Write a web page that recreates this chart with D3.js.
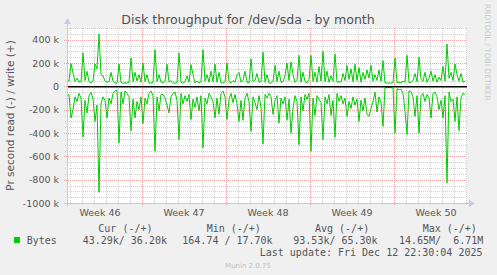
<!DOCTYPE html>
<html>
<head>
<meta charset="utf-8">
<script src="https://cdn.jsdelivr.net/npm/d3@7"></script>
<style>
body { margin: 0; background: #f0f0f0; }
text { font-family: "DejaVu Sans", sans-serif; }
.mono { font-family: "DejaVu Sans Mono", monospace; }
</style>
</head>
<body>
<div id="chart"></div>
<script>
// one sample every 4 hours, values in kB/s
const startTime = new Date(Date.UTC(2025, 10, 10, 18));
const endTime = new Date(Date.UTC(2025, 11, 14, 2));
const stepHours = 4;

// write (+)
const writeK = [
    50, 45, 195, 115, 40, 70, 35, 40, 286, 50,
    128, 40, 30, 45, 192, 150, 449, 100, 90, 45,
    35, 40, 120, 45, 30, 25, 192, 35, 25, 30,
    28, 35, 243, 40, 120, 45, 100, 35, 200, 40,
    100, 30, 28, 35, 314, 40, 100, 35, 28, 45,
    190, 35, 50, 30, 25, 35, 286, 35, 28, 40,
    90, 35, 186, 100, 30, 45, 30, 40, 314, 45,
    100, 35, 130, 40, 190, 35, 120, 30, 28, 40,
    200, 40, 30, 50, 35, 100, 120, 35, 50, 130,
    35, 30, 235, 40, 50, 110, 35, 40, 292, 35,
    100, 30, 25, 45, 180, 40, 130, 35, 40, 90,
    200, 50, 210, 100, 35, 50, 266, 35, 120, 40,
    30, 60, 266, 40, 120, 35, 170, 45, 300, 40,
    130, 35, 90, 45, 278, 35, 40, 35, 110, 50,
    180, 60, 150, 40, 190, 50, 160, 35, 120, 60,
    140, 70, 180, 45, 100, 50, 140, 45, 220, 30,
    28, 28, 28, 30, 243, 30, 35, 30, 45, 35,
    266, 30, 35, 50, 110, 40, 249, 60, 45, 120,
    35, 70, 130, 45, 100, 35, 80, 50, 171, 45,
    363, 70, 120, 50, 192, 100, 45, 110, 35, 45
];

// read (-), drawn below zero
const readK = [
    80, 71, 271, 200, 90, 130, 60, 100, 434, 120,
    228, 80, 50, 110, 300, 160, 908, 150, 90, 120,
    271, 100, 150, 60, 40, 30, 485, 50, 150, 40,
    60, 90, 380, 110, 271, 130, 200, 90, 320, 100,
    150, 60, 40, 80, 557, 90, 210, 70, 70, 100,
    160, 228, 90, 60, 50, 120, 457, 60, 150, 80,
    130, 70, 285, 110, 180, 90, 210, 80, 528, 100,
    150, 60, 90, 130, 271, 100, 240, 60, 40, 90,
    285, 110, 60, 140, 70, 150, 300, 120, 290, 100,
    60, 130, 386, 90, 140, 200, 80, 180, 494, 70,
    100, 60, 90, 240, 120, 80, 314, 100, 150, 90,
    290, 110, 400, 190, 80, 130, 500, 90, 210, 70,
    110, 60, 557, 100, 250, 80, 110, 140, 457, 90,
    150, 70, 250, 120, 437, 60, 130, 80, 150, 100,
    257, 130, 190, 90, 160, 110, 300, 120, 210, 100,
    240, 257, 190, 130, 50, 220, 90, 140, 343, 12,
    12, 10, 12, 15, 400, 20, 30, 25, 60, 210,
    414, 40, 45, 90, 257, 80, 400, 80, 60, 130,
    70, 100, 271, 60, 50, 90, 200, 120, 271, 80,
    828, 50, 130, 110, 300, 90, 380, 100, 60, 70
];

const yTicks = [400, 200, 0, -200, -400, -600, -800, -1000];
const weekLabels = ["Week 46", "Week 47", "Week 48", "Week 49", "Week 50"];
const legendHeads = ["Cur (-/+)", "Min (-/+)", "Avg (-/+)", "Max (-/+)"];
const legendValues = ["43.29k/ 36.20k", "164.74 / 17.70k", "93.53k/ 65.30k", "14.65M/  6.71M"];
const lastUpdate = "Last update: Fri Dec 12 22:30:04 2025";

var width = 497, height = 275;
var plot = {left: 67, right: 467, top: 28, bottom: 203};

var svg = d3.select("#chart")
    .append("svg")
    .attr("width", width)
    .attr("height", height)
    .style("display", "block")
    .style("background", "#f0f0f0");

var x = d3.scaleUtc()
    .domain([startTime, endTime])
    .range([plot.left, plot.right]);

var y = d3.scaleLinear()
    .domain([-1000, 500])
    .range([plot.bottom, plot.top]);

svg.append("rect")
    .attr("x", plot.left)
    .attr("y", plot.top)
    .attr("width", plot.right - plot.left)
    .attr("height", plot.bottom - plot.top)
    .attr("fill", "#ffffff");

// minor grid: days and every 50k
var grid = svg.append("g").attr("shape-rendering", "crispEdges");
grid.selectAll(".vmin")
    .data(d3.utcDay.range(startTime, endTime))
    .enter().append("line")
    .attr("x1", d => Math.round(x(d)) + 0.5)
    .attr("x2", d => Math.round(x(d)) + 0.5)
    .attr("y1", plot.top)
    .attr("y2", plot.bottom + 2)
    .attr("stroke", "#d0d0d0")
    .attr("stroke-dasharray", "1,1");

grid.selectAll(".hmin")
    .data(d3.range(-1000, 501, 50).filter(v => v % 200 != 0))
    .enter().append("line")
    .attr("x1", plot.left - 2)
    .attr("x2", plot.right)
    .attr("y1", d => Math.round(y(d)) + 0.5)
    .attr("y2", d => Math.round(y(d)) + 0.5)
    .attr("stroke", "#d0d0d0")
    .attr("stroke-dasharray", "1,1");

// major grid: weeks and every 200k
grid.selectAll(".vmaj")
    .data(d3.utcMonday.range(startTime, endTime))
    .enter().append("line")
    .attr("x1", d => Math.round(x(d)) + 0.5)
    .attr("x2", d => Math.round(x(d)) + 0.5)
    .attr("y1", plot.top)
    .attr("y2", plot.bottom + 3)
    .attr("stroke", "#f0a0a0")
    .attr("stroke-dasharray", "1,1");

grid.selectAll(".hmaj")
    .data(yTicks)
    .enter().append("line")
    .attr("x1", plot.left - 3)
    .attr("x2", plot.right)
    .attr("y1", d => Math.round(y(d)) + 0.5)
    .attr("y2", d => Math.round(y(d)) + 0.5)
    .attr("stroke", "#f0a0a0")
    .attr("stroke-dasharray", "1,1");

// y tick labels
svg.selectAll(".ylab")
    .data(yTicks)
    .enter().append("text")
    .attr("x", 59)
    .attr("y", d => y(d) + 3.5)
    .attr("text-anchor", "end")
    .attr("font-size", "9.5px")
    .attr("fill", "#555")
    .text(d => d == 0 ? "0" : d + " k");

// week labels in the middle of each week
var weekStarts = d3.utcMonday.range(d3.utcMonday.floor(startTime), endTime);
svg.selectAll(".xlab")
    .data(weekStarts.slice(0, weekLabels.length))
    .enter().append("text")
    .attr("x", d => x(d3.utcHour.offset(d, 84)))
    .attr("y", 216)
    .attr("text-anchor", "middle")
    .attr("font-size", "9.5px")
    .attr("fill", "#555")
    .text((d, i) => weekLabels[i]);

// data lines
var time = i => d3.utcHour.offset(startTime, i * stepHours);

var lineWrite = d3.line()
    .x((d, i) => x(time(i)))
    .y(d => y(d));
var lineRead = d3.line()
    .x((d, i) => x(time(i)))
    .y(d => y(-d));

svg.append("path")
    .datum(readK)
    .attr("d", lineRead)
    .attr("fill", "none")
    .attr("stroke", "#00cc00")
    .attr("stroke-width", 1);

svg.append("path")
    .datum(writeK)
    .attr("d", lineWrite)
    .attr("fill", "none")
    .attr("stroke", "#00cc00")
    .attr("stroke-width", 1);

// zero rule
svg.append("line")
    .attr("x1", plot.left)
    .attr("x2", plot.right)
    .attr("y1", y(0) + 0.5)
    .attr("y2", y(0) + 0.5)
    .attr("stroke", "#000")
    .attr("stroke-width", 1.5);

// axes with arrows
var axisColor = "#c4c8f0";
svg.append("line")
    .attr("x1", plot.left + 0.5).attr("x2", plot.left + 0.5)
    .attr("y1", plot.bottom + 3).attr("y2", plot.top - 5)
    .attr("stroke", axisColor);
svg.append("line")
    .attr("x1", plot.left - 3).attr("x2", plot.right + 4)
    .attr("y1", plot.bottom + 0.5).attr("y2", plot.bottom + 0.5)
    .attr("stroke", axisColor);
svg.append("path")
    .attr("d", d3.line()([[plot.left - 3, plot.top - 4], [plot.left + 4, plot.top - 4], [plot.left + 0.5, plot.top - 10]]))
    .attr("fill", axisColor);
svg.append("path")
    .attr("d", d3.line()([[plot.right + 2, plot.bottom - 3], [plot.right + 2, plot.bottom + 4], [plot.right + 8, plot.bottom + 0.5]]))
    .attr("fill", axisColor);

// titles
svg.append("text")
    .attr("x", 248)
    .attr("y", 23.5)
    .attr("text-anchor", "middle")
    .attr("font-size", "12.6px")
    .attr("fill", "#505050")
    .text("Disk throughput for /dev/sda - by month");

svg.append("text")
    .attr("transform", "translate(14," + ((plot.top + plot.bottom) / 2) + ")rotate(-90)")
    .attr("text-anchor", "middle")
    .attr("font-size", "10.5px")
    .attr("fill", "#555")
    .text("Pr second read (-) / write (+)");

svg.append("text")
    .attr("transform", "translate(485,4)rotate(90)")
    .attr("font-size", "7.5px")
    .attr("fill", "#c8c8c8")
    .text("RRDTOOL / TOBI OETIKER");

// legend
var headX = [98.3, 206.7, 315, 422.7];
var valX = [82.7, 182.3, 293.3, 399];

svg.selectAll(".lhead")
    .data(legendHeads)
    .enter().append("text")
    .attr("class", "mono")
    .attr("x", (d, i) => headX[i])
    .attr("y", 231.5)
    .attr("font-size", "10px")
    .attr("fill", "#555")
    .style("white-space", "pre")
    .text(d => d);

svg.append("rect")
    .attr("x", 14).attr("y", 237)
    .attr("width", 6).attr("height", 6)
    .attr("fill", "#00cc00");

svg.append("text")
    .attr("class", "mono")
    .attr("x", 26.7)
    .attr("y", 243.5)
    .attr("font-size", "10px")
    .attr("fill", "#555")
    .text("Bytes");

svg.selectAll(".lval")
    .data(legendValues)
    .enter().append("text")
    .attr("class", "mono")
    .attr("x", (d, i) => valX[i])
    .attr("y", 243.5)
    .attr("font-size", "10px")
    .attr("fill", "#555")
    .style("white-space", "pre")
    .text(d => d);

svg.append("text")
    .attr("class", "mono")
    .attr("x", 482.5)
    .attr("y", 255.5)
    .attr("text-anchor", "end")
    .attr("font-size", "10px")
    .attr("fill", "#555")
    .text(lastUpdate);

svg.append("text")
    .attr("x", 248)
    .attr("y", 267.5)
    .attr("text-anchor", "middle")
    .attr("font-size", "7px")
    .attr("fill", "#c0c0c0")
    .text("Munin 2.0.75");
</script>
</body>
</html>
